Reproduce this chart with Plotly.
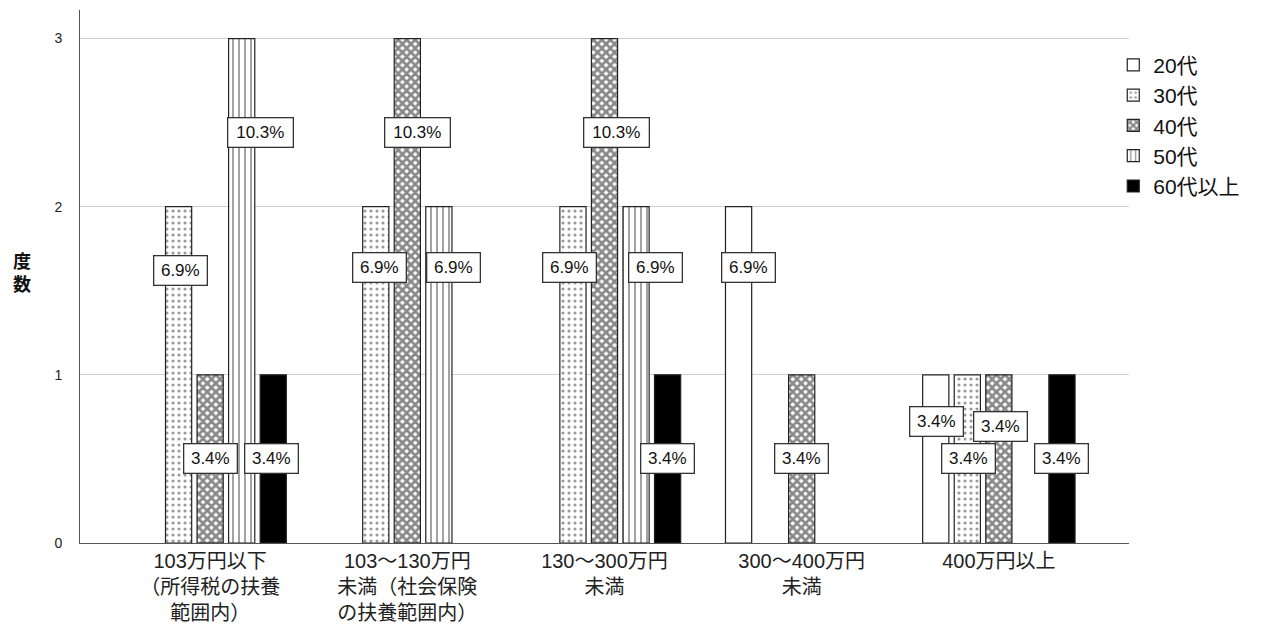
import plotly.graph_objects as go

categories = [
    "103万円以下<br>（所得税の扶養<br>範囲内）",
    "103～130万円<br>未満（社会保険<br>の扶養範囲内）",
    "130～300万円<br>未満",
    "300～400万円<br>未満",
    "400万円以上",
]
series_names = ["20代", "30代", "40代", "50代", "60代以上"]
v20 = [0, 0, 0, 2, 1]
v30 = [2, 2, 2, 0, 1]
v40 = [1, 3, 3, 1, 1]
v50 = [3, 2, 2, 0, 0]
v60 = [1, 0, 1, 0, 1]
values = [v20, v30, v40, v50, v60]

# label placement (data-unit height of each percentage box) and pixel nudges
lab20 = [None, None, None, 1.64, 0.72]
lab30 = [1.62, 1.64, 1.64, None, 0.5]
lab40 = [0.5, 2.44, 2.44, 0.5, 0.69]
lab50 = [2.44, 1.64, 1.64, None, None]
lab60 = [0.5, None, 0.5, None, 0.5]
label_y = [lab20, lab30, lab40, lab50, lab60]
shift20 = [0, 0, 0, 10, 1]
shift30 = [2, 4, -3, 0, 1]
shift40 = [0, 10, 12, 0, 2]
shift50 = [19, 15, 19, 0, 0]
shift60 = [-2, 0, 0, 0, 0]
label_shift = [shift20, shift30, shift40, shift50, shift60]

total = sum(sum(v) for v in values)

styles = [
    dict(color="white", pattern=dict(shape="")),
    dict(color="white", pattern=dict(shape=".", fgcolor="#333", bgcolor="white", size=6, solidity=0.22)),
    dict(color="white", pattern=dict(shape="x", fgcolor="#111", bgcolor="white", size=6, solidity=0.7)),
    dict(color="white", pattern=dict(shape="|", fgcolor="#333", bgcolor="white", size=6, solidity=0.3)),
    dict(color="black", pattern=dict(shape="")),
]

font_family = "Liberation Sans, Arial, Noto Sans CJK JP, sans-serif"

fig = go.Figure()
xs = list(range(len(categories)))
for name, vals, st in zip(series_names, values, styles):
    fig.add_trace(go.Bar(
        x=xs, y=[v if v else None for v in vals], name=name,
        marker=dict(color=st["color"], pattern=st["pattern"],
                    line=dict(color="#222", width=1.2)),
    ))

slot = 0.16
for si, (vals, ly, sh) in enumerate(zip(values, label_y, label_shift)):
    for gi, v in enumerate(vals):
        if v == 0 or ly[gi] is None:
            continue
        txt = f"{v / total * 100:.1f}%"
        fig.add_annotation(
            x=gi + (si - 2) * slot, y=ly[gi], xref="x", yref="y",
            text=txt, showarrow=False,
            xshift=sh[gi],
            width=44 if len(txt) <= 4 else 56, height=20,
            font=dict(family=font_family, size=17, color="#111"),
            bgcolor="white", bordercolor="#333", borderwidth=1.3, borderpad=4,
        )

fig.add_annotation(
    x=(22 - 80) / (1129 - 80), y=(543 - 273) / 533, xref="paper", yref="paper",
    xanchor="center", yanchor="middle",
    text="<b>度<br>数</b>", showarrow=False,
    font=dict(family=font_family, size=18, color="#111"),
)

fig.update_layout(
    width=1266, height=624,
    margin=dict(l=80, r=137, t=10, b=81, autoexpand=False),
    paper_bgcolor="white", plot_bgcolor="white",
    barmode="group", bargap=0.2, bargroupgap=0.17,
    font=dict(family=font_family, size=14, color="#222"),
    showlegend=True,
    legend=dict(x=0.985, y=0.935, xanchor="left", yanchor="top",
                font=dict(family=font_family, size=21, color="#111"),
                tracegroupgap=0, itemwidth=30, bgcolor="rgba(0,0,0,0)"),
    xaxis=dict(range=[-0.66, 4.66], tickvals=xs, ticktext=categories,
               showgrid=False, zeroline=False, showline=True, linecolor="#555",
               linewidth=1, ticks="", automargin=False,
               tickfont=dict(size=20, color="#222")),
    yaxis=dict(range=[0, 3.17], tickvals=[0, 1, 2, 3], showgrid=True,
               gridcolor="#d0d0d0", gridwidth=1, zeroline=False, showline=True,
               linecolor="#555", linewidth=1, ticks="", ticklabelstandoff=14,
               automargin=False, tickfont=dict(size=14, color="#222")),
)

fig.write_html("out.html", config={"displayModeBar": False},
               post_script="document.body.style.margin='0';")
